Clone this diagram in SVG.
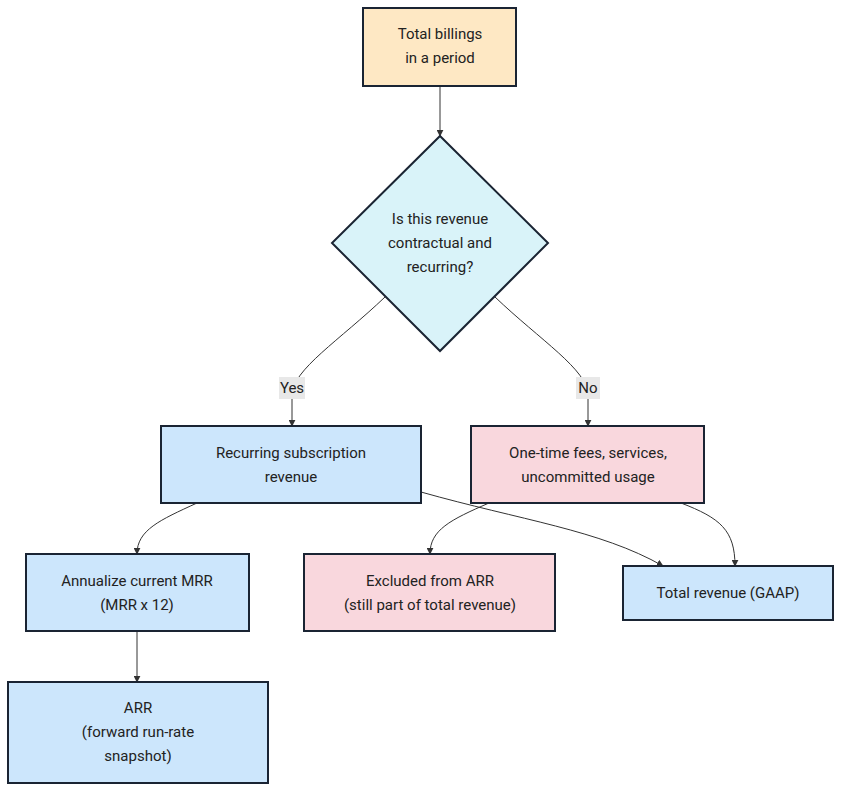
<svg xmlns="http://www.w3.org/2000/svg" width="842" height="792" viewBox="0 0 842 792">
<style>
.n{stroke:#1a2433;stroke-width:2}
.t{font-family:Roboto,"Noto Sans",sans-serif;font-size:15px;fill:#222;text-anchor:middle}
.e{fill:none;stroke:#333;stroke-width:1}
.lb{fill:#e8e8e8}
</style>
<defs><marker id="a" viewBox="0 0 10 10" refX="9" refY="5" markerWidth="7" markerHeight="7" orient="auto"><path d="M0,0L10,5L0,10z" fill="#333"/></marker></defs>
<rect width="842" height="792" fill="#fff"/>
<g id="edges">
<path class="e" d="M440,86V136" marker-end="url(#a)"/>
<path class="e" d="M385,297C340,340 292,370 292,395V426" marker-end="url(#a)"/>
<path class="e" d="M495,297C540,340 588,370 588,395V426" marker-end="url(#a)"/>
<path class="e" d="M197,503C160,520 137,530 137,554" marker-end="url(#a)"/>
<path class="e" d="M421,492C520,520 600,530 663,566" marker-end="url(#a)"/>
<path class="e" d="M489,503C450,520 430,530 430,554" marker-end="url(#a)"/>
<path class="e" d="M681,503C720,518 735,530 735,566" marker-end="url(#a)"/>
<path class="e" d="M137,631V682" marker-end="url(#a)"/>
<rect class="lb" x="279" y="377" width="26" height="22"/><text class="t" x="292" y="393">Yes</text>
<rect class="lb" x="576" y="377" width="24" height="22"/><text class="t" x="588" y="393">No</text>
</g>
<g id="n1"><rect class="n" x="363" y="8" width="153" height="78" fill="#fee8c4"/><text class="t" x="440" y="39">Total billings</text><text class="t" x="440" y="63">in a period</text></g>
<g id="n2"><path class="n" d="M440,136L548,243L440,351L332,243Z" fill="#d9f3f9"/><text class="t" x="440" y="224">Is this revenue</text><text class="t" x="440" y="248">contractual and</text><text class="t" x="440" y="272">recurring?</text></g>
<g id="n3"><rect class="n" x="161" y="426" width="260" height="77" fill="#cce6fc"/><text class="t" x="291" y="458">Recurring subscription</text><text class="t" x="291" y="482">revenue</text></g>
<g id="n4"><rect class="n" x="471" y="426" width="233" height="77" fill="#f9d7dd"/><text class="t" x="588" y="458">One-time fees, services,</text><text class="t" x="588" y="482">uncommitted usage</text></g>
<g id="n5"><rect class="n" x="26" y="554" width="223" height="77" fill="#cce6fc"/><text class="t" x="137" y="586">Annualize current MRR</text><text class="t" x="137" y="610">(MRR x 12)</text></g>
<g id="n6"><rect class="n" x="304" y="554" width="251" height="77" fill="#f9d7dd"/><text class="t" x="430" y="586">Excluded from ARR</text><text class="t" x="430" y="610">(still part of total revenue)</text></g>
<g id="n7"><rect class="n" x="623" y="566" width="210" height="54" fill="#cce6fc"/><text class="t" x="728" y="598">Total revenue (GAAP)</text></g>
<g id="n8"><rect class="n" x="8" y="682" width="260" height="101" fill="#cce6fc"/><text class="t" x="138" y="713">ARR</text><text class="t" x="138" y="737">(forward run-rate</text><text class="t" x="138" y="761">snapshot)</text></g>
</svg>
